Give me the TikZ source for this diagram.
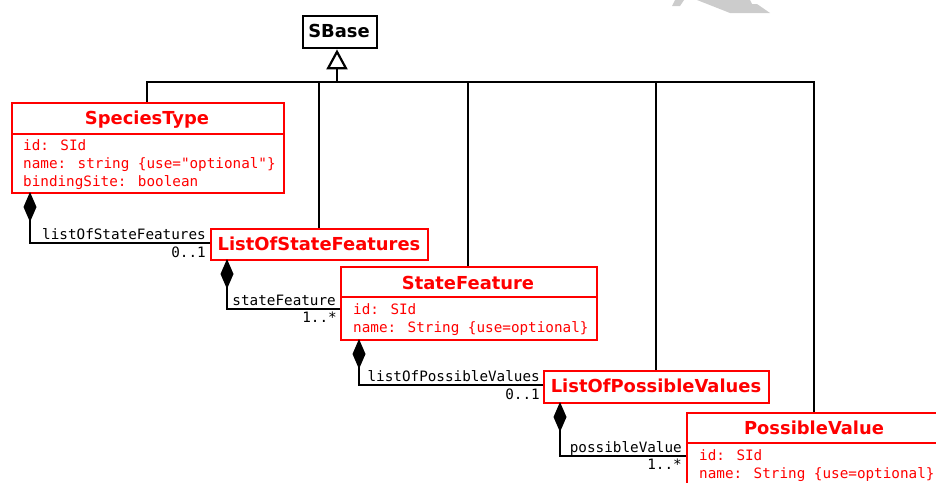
\documentclass[tikz,border=0pt]{standalone}
\usepackage{fontspec}
\newfontfamily\sansbold{DejaVu Sans}
\newfontfamily\monof{DejaVu Sans Mono}
\usetikzlibrary{arrows.meta}
\definecolor{umlred}{RGB}{255,0,0}
\definecolor{wm}{RGB}{204,204,204}
\begin{document}
\begin{tikzpicture}[x=1pt,y=-1pt,
 classbox/.style={draw=umlred, line width=2.4pt, fill=white, inner sep=0pt, anchor=north west},
 title/.style={font=\sansbold\bfseries\fontsize{17.9}{20}\selectfont, text=umlred, anchor=base, inner sep=0pt},
 attr/.style={font=\monof\fontsize{14.3}{18}\selectfont, text=umlred, anchor=base west, inner sep=0pt},
 lab/.style={font=\monof\fontsize{14.3}{18}\selectfont, text=black, inner sep=0pt, anchor=base east},
 divider/.style={draw=umlred, line width=2.4pt},
 conn/.style={line width=2.6pt, black},
 comp/.style={conn, -{Diamond[length=30pt,width=13pt]}},
 gen/.style={conn, -{Triangle[length=20pt,width=21pt,fill=white,line width=2.2pt]}}
]
\useasboundingbox (0,0) rectangle (936,482);
\clip (0,0) rectangle (936,482);

% watermark fragment
\fill[wm] (697,0) -- (750,0) -- (752,4) -- (757,4) -- (770,13) -- (730,13) -- cycle;
\fill[wm] (672,6) -- (675,0) -- (684,0) -- (680,6) -- cycle;

% SBase
\node[draw=black, line width=2.4pt, fill=white, minimum width=74pt, minimum height=32pt, anchor=north west, inner sep=0pt] (sbase) at (302,15) {};
\node[font=\sansbold\bfseries\fontsize{17.9}{20}\selectfont, anchor=base, inner sep=0pt] (sbaset) at (339,37) {SBase};

% generalisation
\coordinate (bus) at (337,82);
\coordinate (stTop) at (147,102);
\coordinate (lsfTop) at (319,228);
\coordinate (sfTop) at (468,266);
\coordinate (lpvTop) at (656,370);
\coordinate (pvTop) at (814,412);
\draw[conn] (stTop) |- (bus);
\draw[conn] (lsfTop) |- (bus);
\draw[conn] (sfTop) |- (bus);
\draw[conn] (lpvTop) |- (bus);
\draw[conn] (pvTop) |- (bus);
\draw[gen] (bus) -- (bus |- sbase.south);

% class boxes
\node[classbox, minimum width=272pt, minimum height=90pt] (st) at (11,102) {};
\node[classbox, minimum width=217pt, minimum height=31pt] (lsf) at (210,228) {};
\node[classbox, minimum width=256pt, minimum height=73pt] (sf) at (340,266) {};
\node[classbox, minimum width=225pt, minimum height=32pt] (lpv) at (543,370) {};
\node[classbox, minimum width=256pt, minimum height=100pt] (pv) at (686,412) {};

% dividers
\draw[divider] (11,134) -- (283,134);
\draw[divider] (340,297) -- (596,297);
\draw[divider] (686,443) -- (942,443);

% titles
\node[title] (stt) at (147,124) {SpeciesType};
\node[title] (lsft) at (319,250) {ListOfStateFeatures};
\node[title] (sft) at (468,289) {StateFeature};
\node[title] (lpvt) at (656,392) {ListOfPossibleValues};
\node[title] (pvt) at (814,434) {PossibleValue};

% attributes
\node[attr] (sta1) at (23,150) {id: SId};
\node[attr] (sta2) at (23,168) {name: string \{use="optional"\}};
\node[attr] (sta3) at (23,186) {bindingSite: boolean};
\node[attr] (sfa1) at (353,314) {id: SId};
\node[attr] (sfa2) at (353,332) {name: String \{use=optional\}};
\node[attr] (pva1) at (699,460) {id: SId};
\node[attr] (pva2) at (699,478) {name: String \{use=optional\}};

% compositions
\coordinate (stD) at (30,192);
\coordinate (lsfD) at (227,259);
\coordinate (sfD) at (359,339);
\coordinate (lpvD) at (560,402);
\coordinate (lsfIn) at (210,243);
\coordinate (sfIn) at (340,309);
\coordinate (lpvIn) at (543,385);
\coordinate (pvIn) at (686,456);

\draw[comp] (lsfIn) -| (stD);
\draw[comp] (sfIn) -| (lsfD);
\draw[comp] (lpvIn) -| (sfD);
\draw[comp] (pvIn) -| (lpvD);

% role labels and multiplicities
\node[lab] (l1) at (206,239) {listOfStateFeatures};
\node[lab] (m1) at (206,257) {0..1};
\node[lab] (l2) at (336,305) {stateFeature};
\node[lab] (m2) at (337,322) {1..*};
\node[lab] (l3) at (540,381) {listOfPossibleValues};
\node[lab] (m3) at (540,399) {0..1};
\node[lab] (l4) at (682,452) {possibleValue};
\node[lab] (m4) at (682,469) {1..*};
\end{tikzpicture}
\end{document}
